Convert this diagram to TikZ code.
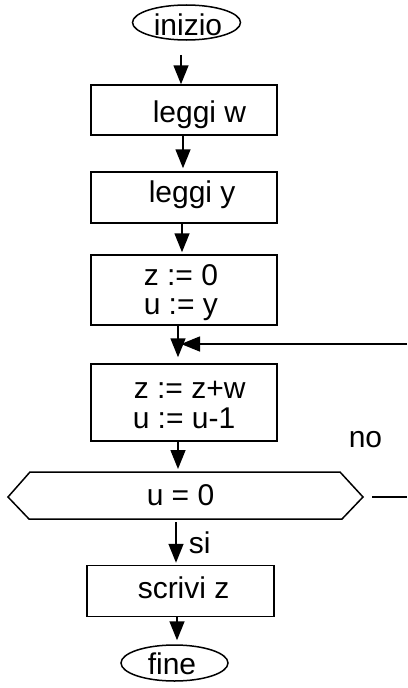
\documentclass[tikz,border=0pt]{standalone}
\usepackage{fontspec}
\setmainfont{Liberation Sans}
\usetikzlibrary{arrows.meta,shapes.geometric}
\begin{document}
\begin{tikzpicture}[x=1pt,y=-1pt,
  line width=1.5pt,
  box/.style={draw,rectangle,inner sep=0pt},
  term/.style={draw,ellipse,inner sep=0pt},
  txt/.style={anchor=base west,inner sep=0pt,font=\fontsize{30}{30}\selectfont},
  arr/.style={-{Triangle[width=15pt,length=19pt]}},
]
\useasboundingbox (0,0) rectangle (407,688);
% terminals and boxes
\node[term,minimum width=108pt,minimum height=35pt] (ini) at (186.5,22.5) {};
\node[box,minimum width=186pt,minimum height=50pt] (w) at (184,110) {};
\node[box,minimum width=186pt,minimum height=51pt] (y) at (184,197.5) {};
\node[box,minimum width=186pt,minimum height=70pt] (z0) at (184,290) {};
\node[box,minimum width=186pt,minimum height=77pt] (zz) at (184,402.5) {};
\node[box,minimum width=187pt,minimum height=51pt] (sc) at (180.5,591) {};
\node[term,minimum width=107pt,minimum height=36pt] (fin) at (174.5,663) {};
% decision hexagon
\draw (8,497) -- (30,472) -- (340,472) -- (363,497) -- (342,519) -- (29,519) -- cycle;
\coordinate (decT) at (178,472);
\coordinate (decB) at (176,519);
\coordinate (decR) at (363,497);
\coordinate (noOut) at (407,497);
\coordinate (loopIn) at (407,344);
\coordinate (merge) at (181,344);
% texts
\node[txt] (t1) at (153,35) {inizio};
\node[txt] (t2) at (152,122) {leggi w};
\node[txt] (t3) at (148,202) {leggi y};
\node[txt] (t4) at (143,285) {z := 0};
\node[txt] (t5) at (143,314) {u := y};
\node[txt] (t6) at (133,398) {z := z+w};
\node[txt] (t7) at (132,428) {u := u-1};
\node[txt] (t8) at (146,505) {u = 0};
\node[txt] (t9) at (348,447) {no};
\node[txt] (t10) at (188,553) {si};
\node[txt] (t11) at (137,598) {scrivi z};
\node[txt] (t12) at (147,674) {fine};
% connectors
\draw[arr,shorten <=14pt] ([xshift=-5.5pt]ini.south) -- ([xshift=-3pt]w.north);
\draw[arr,shorten >=3pt] ([xshift=-1pt]w.south) -- ([xshift=-1pt]y.north);
\draw[arr,shorten >=2pt] ([xshift=-2pt]y.south) -- ([xshift=-2pt]z0.north);
\draw[arr,shorten >=6pt] ([xshift=-6pt]z0.south) -- ([xshift=-6pt]zz.north);
\draw[arr] (loopIn) -- (merge);
\draw[arr,shorten >=3pt] ([xshift=-6pt]zz.south) -- (decT);
\draw[arr,shorten >=2pt,shorten <=3pt] (decB) -- ([xshift=-4.5pt]sc.north);
\draw[arr,shorten >=4pt] ([xshift=-3.5pt]sc.south) -- ([xshift=2.5pt]fin.north);
\draw[shorten <=9pt] (decR) -- (noOut);
\end{tikzpicture}
\end{document}
